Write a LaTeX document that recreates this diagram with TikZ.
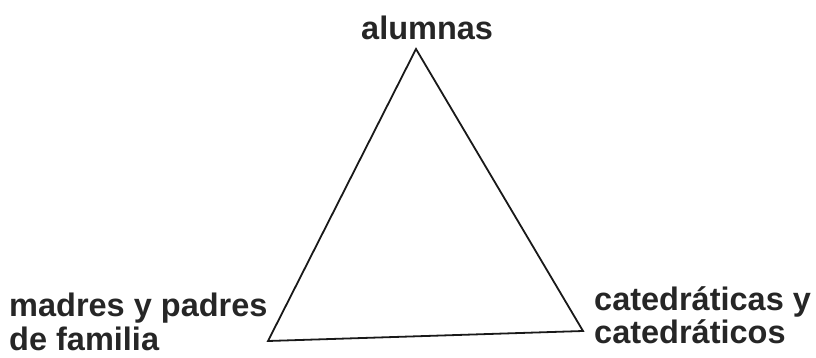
\documentclass[tikz,border=0pt]{standalone}
\usepackage{fontspec}
\setmainfont{Liberation Sans}
\begin{document}
\begin{tikzpicture}[x=1pt,y=1pt,
  lbl/.style={font=\fontsize{32.5}{34}\selectfont\bfseries, text=black!85, inner sep=0pt, anchor=base west, align=left},
  edge/.style={draw=black!90, line width=1.8pt, line join=miter}]
\useasboundingbox (0,0) rectangle (816,357);
\coordinate (A) at (416,{357-49});
\coordinate (B) at (268,{357-341});
\coordinate (C) at (583,{357-331});
\draw[edge] (A) -- (B) -- (C) -- cycle;
\node[lbl] (top) at (361,{357-40}) {alumnas};
\node[lbl] (l1) at (9,{357-316}) {madres y padres};
\node[lbl] (l2) at (9,{357-350}) {de familia};
\node[lbl] (r1) at (594,{357-310}) {catedráticas y};
\node[lbl] (r2) at (594,{357-343}) {catedráticos};
\end{tikzpicture}
\end{document}
